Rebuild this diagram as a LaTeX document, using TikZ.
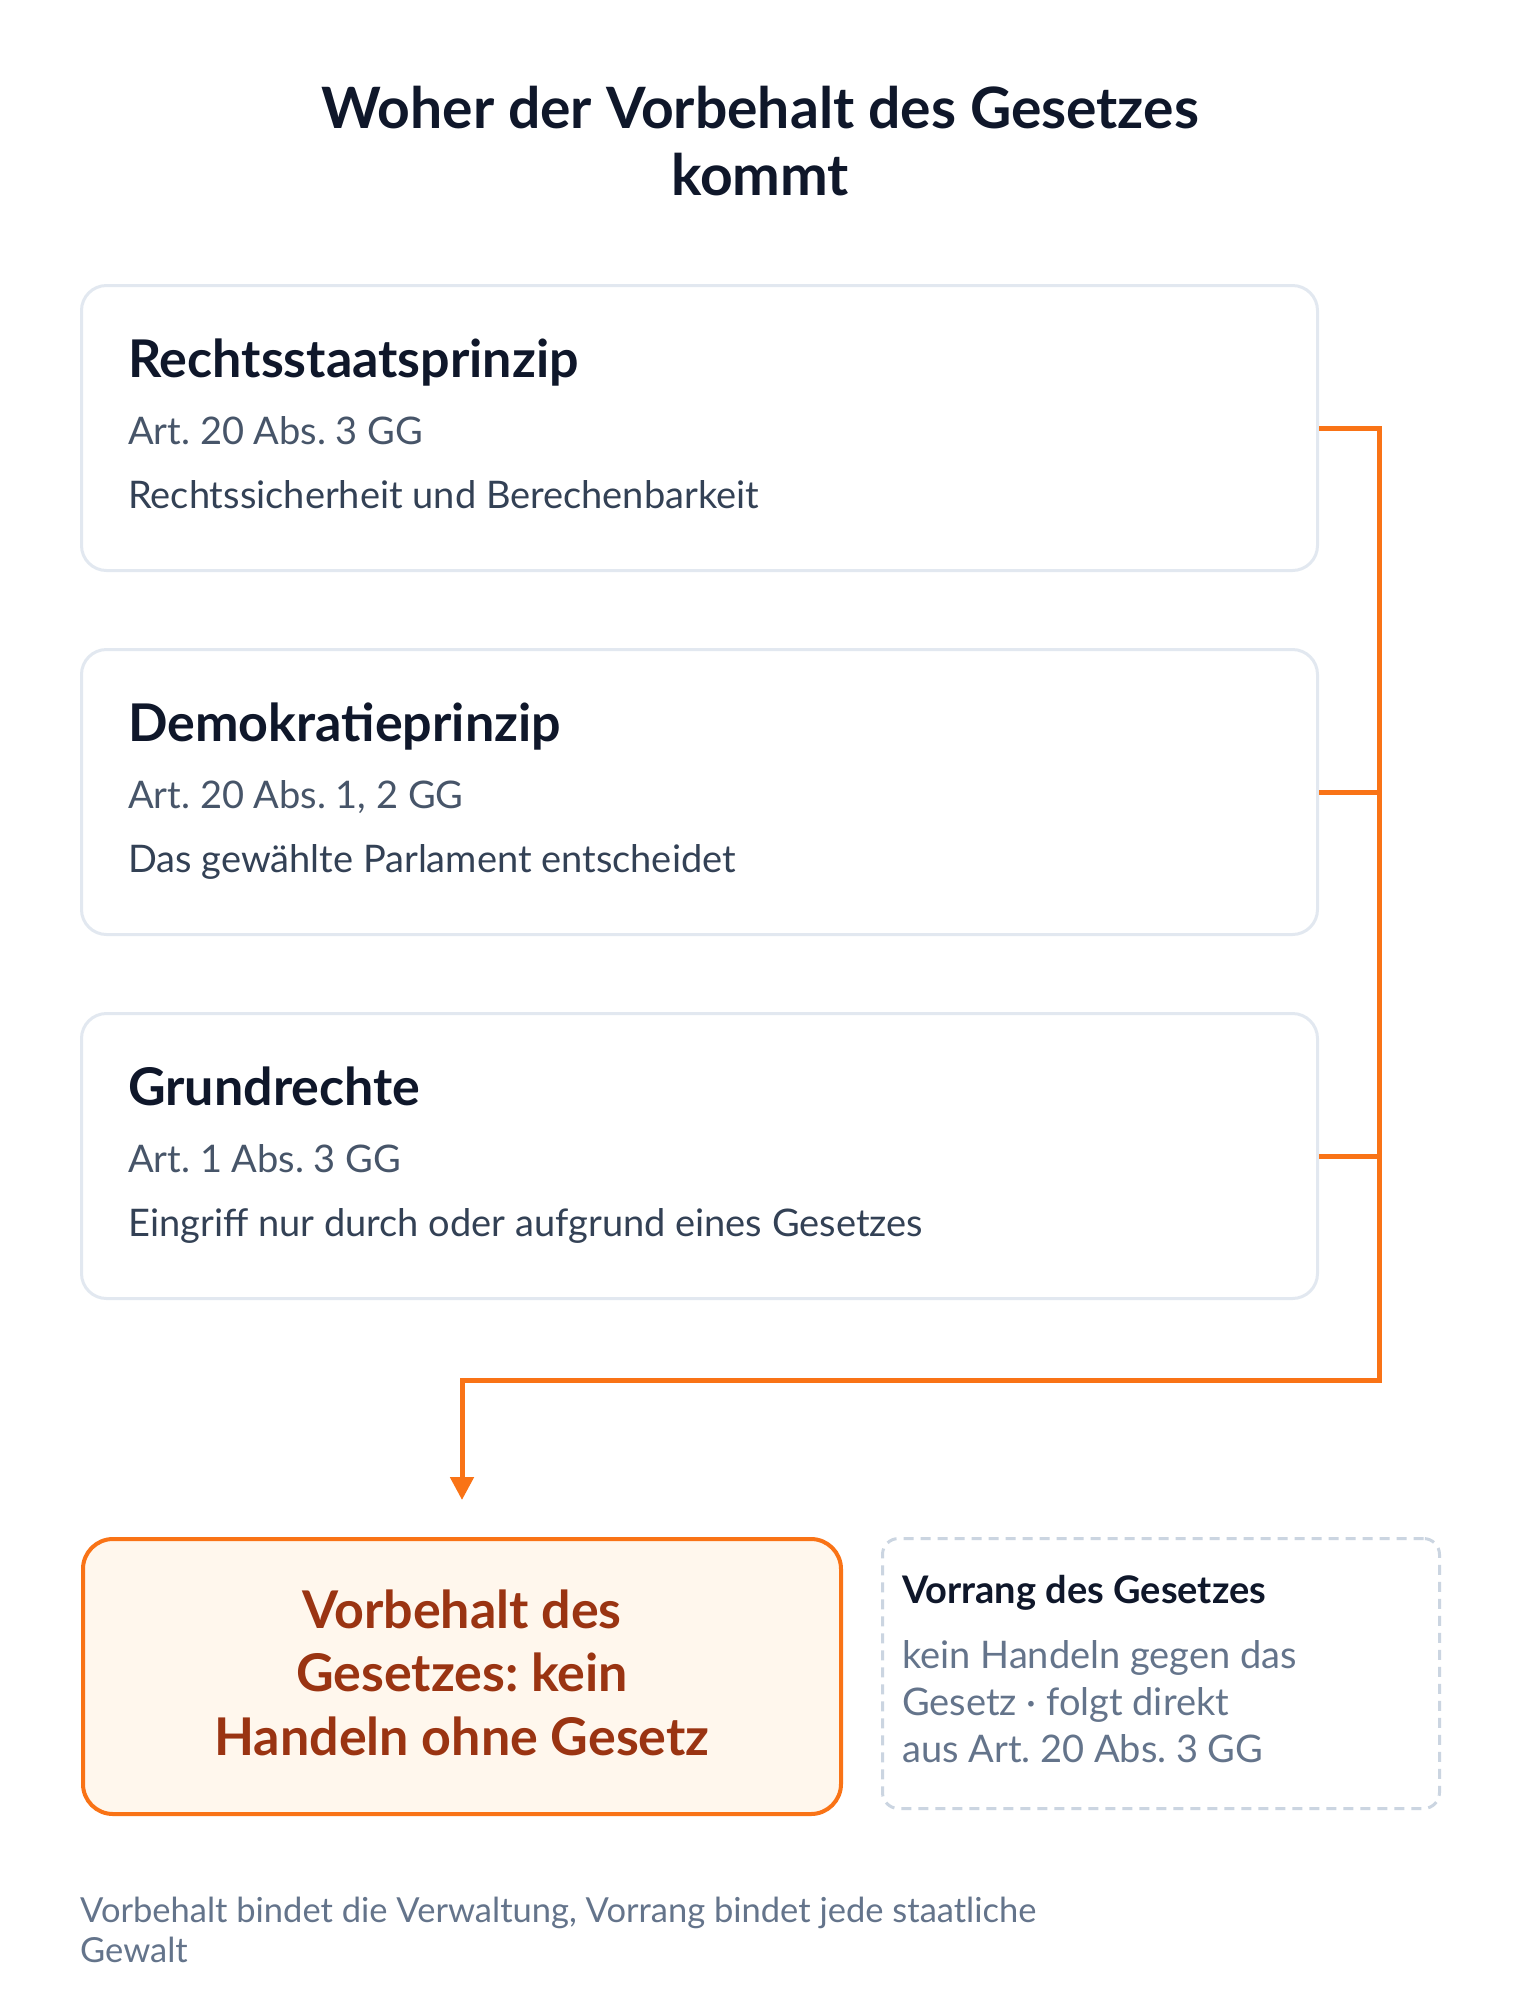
\documentclass[tikz,border=0pt]{standalone}
\usepackage{fontspec}
\setmainfont{Lato}
\usetikzlibrary{arrows.meta}
\frenchspacing
\definecolor{ink}{HTML}{0F172A}
\definecolor{cardline}{HTML}{E2E8F0}
\definecolor{refgray}{HTML}{475569}
\definecolor{descgray}{HTML}{334155}
\definecolor{accent}{HTML}{F97316}
\definecolor{accentfill}{HTML}{FFF7ED}
\definecolor{accenttext}{HTML}{9A3412}
\definecolor{dashline}{HTML}{CBD5E1}
\definecolor{mutedgray}{HTML}{64748B}
\newcommand\fTitle{\fontsize{57}{67}\selectfont\bfseries}
\newcommand\fHead{\fontsize{52}{60}\selectfont\bfseries}
\newcommand\fRef{\fontsize{38}{45}\selectfont}
\newcommand\fBody{\fontsize{38}{45}\selectfont}
\newcommand\fBig{\fontsize{52}{63}\selectfont\bfseries}
\newcommand\fSide{\fontsize{38}{45}\selectfont\bfseries}
\newcommand\fFoot{\fontsize{34.5}{40}\selectfont}
\begin{document}
\begin{tikzpicture}[x=1pt,y=-1pt,
  card/.style={draw=cardline, line width=3pt, fill=white, rounded corners=25pt, inner sep=0pt, minimum width=1236pt, minimum height=285pt, anchor=north west},
  txt/.style={inner sep=0pt, anchor=base west},
  ctxt/.style={inner sep=0pt, anchor=base},
  conn/.style={draw=accent, line width=5pt},
  mainbox/.style={draw=accent, line width=4pt, fill=accentfill, rounded corners=30pt, inner sep=0pt, minimum width=758pt, minimum height=275pt, anchor=north west},
  sidebox/.style={draw=dashline, line width=3pt, dash pattern=on 10pt off 7pt, rounded corners=16pt, inner sep=0pt, minimum width=557pt, minimum height=270pt, anchor=north west}]
\useasboundingbox[fill=white] (0,0) rectangle (1520,2014);
% title
\node[ctxt, font=\fTitle, text=ink] (title1) at (760,128) {Woher der Vorbehalt des Gesetzes};
\node[ctxt, font=\fTitle, text=ink] (title2) at (760,195) {kommt};
% cards
\node[card] (b1) at (80,284) {};
\node[card] (b2) at (80,648) {};
\node[card] (b3) at (80,1012) {};
\node[txt, font=\fHead, text=ink] (h1) at (128,377) {Rechtsstaatsprinzip};
\node[txt, font=\fRef, text=refgray] (r1) at (128,444) {Art. 20 Abs. 3 GG};
\node[txt, font=\fBody, text=descgray] (d1) at (128,508) {Rechtssicherheit und Berechenbarkeit};
\node[txt, font=\fHead, text=ink] (h2) at (128,741) {Demokratieprinzip};
\node[txt, font=\fRef, text=refgray] (r2) at (128,808) {Art. 20 Abs. 1, 2 GG};
\node[txt, font=\fBody, text=descgray] (d2) at (128,872) {Das gewählte Parlament entscheidet};
\node[txt, font=\fHead, text=ink] (h3) at (128,1105) {Grundrechte};
\node[txt, font=\fRef, text=refgray] (r3) at (128,1172) {Art. 1 Abs. 3 GG};
\node[txt, font=\fBody, text=descgray] (d3) at (128,1236) {Eingriff nur durch oder aufgrund eines Gesetzes};
% result boxes
\node[mainbox] (vb) at (81,1537) {};
\node[ctxt, font=\fBig, text=accenttext] (v1) at (vb.center |- 0,1628) {Vorbehalt des};
\node[ctxt, font=\fBig, text=accenttext] (v2) at (vb.center |- 0,1691) {Gesetzes: kein};
\node[ctxt, font=\fBig, text=accenttext] (v3) at (vb.center |- 0,1755) {Handeln ohne Gesetz};
\node[sidebox] (vr) at (881,1537) {};
\node[txt, font=\fSide, text=ink] (s0) at (902,1603) {Vorrang des Gesetzes};
\node[txt, font=\fBody, text=mutedgray] (s1) at (902,1668) {kein Handeln gegen das};
\node[txt, font=\fBody, text=mutedgray] (s2) at (902,1715) {Gesetz · folgt direkt};
\node[txt, font=\fBody, text=mutedgray] (s3) at (902,1762) {aus Art. 20 Abs. 3 GG};
% footer
\node[txt, font=\fFoot, text=mutedgray] (f1) at (80,1922) {Vorbehalt bindet die Verwaltung, Vorrang bindet jede staatliche};
\node[txt, font=\fFoot, text=mutedgray] (f2) at (80,1962) {Gewalt};
% connectors
\coordinate (bus) at (1379.5,1380);
\draw[conn] (b2.east) -- (b2.east -| bus);
\draw[conn] (b3.east) -- (b3.east -| bus);
\draw[conn, -{Triangle[length=23pt,width=23pt]}] (b1.east) -| (bus) -| ([yshift=37pt]vb.north);
\end{tikzpicture}
\end{document}
